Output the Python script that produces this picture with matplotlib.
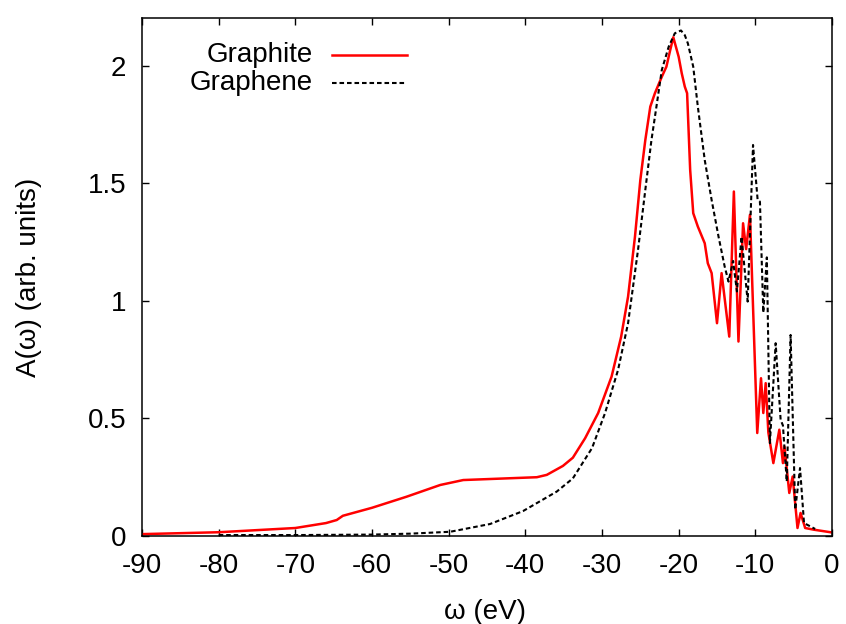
import numpy as np
import matplotlib
matplotlib.use("Agg")
import matplotlib.pyplot as plt
from matplotlib.lines import Line2D

plt.rcParams['font.family'] = ['Liberation Sans', 'DejaVu Sans']

# Graphite spectral function (red, solid)
graphite_w = [-90, -80, -70, -66, -64.6, -63.8, -60, -55.5, -51.1, -48.1, -43.3,
              -38.5, -37.2, -35.1, -33.8, -32.2, -30.5, -28.75, -27.5, -26.6, -25.7,
              -25.0, -24.35, -23.7, -23.1, -22.2, -21.6, -21.1, -20.7, -20.0, -19.6,
              -19.2, -18.9, -18.5, -18.1, -17.5, -16.6, -16.2, -15.7, -15.0, -14.4,
              -13.4, -12.8, -12.2, -11.6, -11.2, -10.7, -10.2, -9.75, -9.26, -8.96,
              -8.65, -8.3, -7.65, -6.87, -6.4, -6.2, -5.57, -5.13, -4.5, -4.1,
              -3.5, -2.4, 0]
graphite_a = [0.008, 0.016, 0.034, 0.055, 0.068, 0.086, 0.12, 0.167, 0.217, 0.238, 0.244,
              0.25, 0.26, 0.298, 0.333, 0.416, 0.523, 0.678, 0.848, 1.018, 1.273,
              1.514, 1.684, 1.826, 1.883, 1.953, 1.996, 2.067, 2.121, 2.038, 1.968,
              1.911, 1.883, 1.557, 1.373, 1.316, 1.245, 1.16, 1.118, 0.905, 1.118,
              0.848, 1.465, 0.827, 1.33, 1.22, 1.366, 0.877, 0.438, 0.671, 0.523,
              0.65, 0.44, 0.31, 0.452, 0.31, 0.38, 0.183, 0.253, 0.034, 0.098,
              0.034, 0.027, 0.015]

# Graphene spectral function (black, dashed)
graphene_w = [-80, -70, -60, -55, -49.8, -44.6, -40.3, -35.9, -33.8, -31.3, -29.6,
              -27.9, -26.6, -25.3, -24.35, -23.55, -22.9, -22.2, -21.3, -20.5, -19.7,
              -19.2, -18.8, -18.1, -17.5, -16.6, -15.7, -14.8, -14.0, -13.5, -12.9,
              -12.4, -11.8, -11.0, -10.3, -9.7, -9.4, -8.96, -8.5, -8.1, -7.35,
              -6.7, -6.4, -5.9, -5.4, -4.8, -4.17, -3.65, -2.2]
graphene_a = [0.004, 0.004, 0.006, 0.01, 0.018, 0.051, 0.106, 0.189, 0.245, 0.374, 0.523,
              0.707, 0.905, 1.217, 1.472, 1.684, 1.826, 1.982, 2.081, 2.138, 2.15,
              2.13, 2.095, 1.996, 1.826, 1.599, 1.429, 1.273, 1.146, 1.082, 1.17,
              1.04, 1.273, 0.997, 1.663, 1.429, 1.422, 0.95, 1.185, 0.395, 0.82,
              0.494, 0.47, 0.232, 0.855, 0.112, 0.289, 0.055, 0.03]

xticks = list(range(-90, 1, 10))
yticks = [0, 0.5, 1, 1.5, 2]
ytick_labels = ["0", "0.5", "1", "1.5", "2"]

fig = plt.figure(figsize=(8.46, 6.24), dpi=100)
ax = fig.add_axes([142 / 846, 1 - 536 / 624, 690 / 846, 518 / 624])

ax.plot(graphite_w, graphite_a, color="#ff0000", lw=1.8)
ax.plot(graphene_w, graphene_a, color="black", lw=1.5, dashes=(2.2, 1.4))

ax.set_xlim(-90, 0)
ax.set_ylim(0, 2.203)
ax.set_xticks(xticks)
ax.set_xticklabels([str(t) for t in xticks])
ax.set_yticks(yticks)
ax.set_yticklabels(ytick_labels)
ax.tick_params(direction="in", length=5, width=1.0, top=True, right=True,
               labelsize=20)
ax.tick_params(axis="x", pad=12)
ax.tick_params(axis="y", pad=11.5)
for s in ax.spines.values():
    s.set_linewidth(1.1)

ax.set_xlabel("ω (eV)", fontsize=20)
ax.xaxis.set_label_coords(0.497, -0.122)
ax.set_ylabel("A(ω) (arb. units)", fontsize=20)
ax.yaxis.set_label_coords(-0.145, 0.5)

# key, gnuplot style: text right-aligned, sample to the right
tr = ax.transAxes
def ax_x(px):
    return (px - 142) / 690
def ax_y(py):
    return (536 - py) / 518

ax.text(ax_x(313), ax_y(55), "Graphite", transform=tr, ha="right", va="center", fontsize=20)
ax.text(ax_x(313), ax_y(83), "Graphene", transform=tr, ha="right", va="center", fontsize=20)
ax.add_line(Line2D([ax_x(332), ax_x(407)], [ax_y(55)] * 2, transform=tr,
                   color="#ff0000", lw=1.8))
ax.add_line(Line2D([ax_x(332), ax_x(407)], [ax_y(83)] * 2, transform=tr,
                   color="black", lw=1.5, dashes=(2.2, 1.4)))

fig.savefig("out.png", dpi=100)
